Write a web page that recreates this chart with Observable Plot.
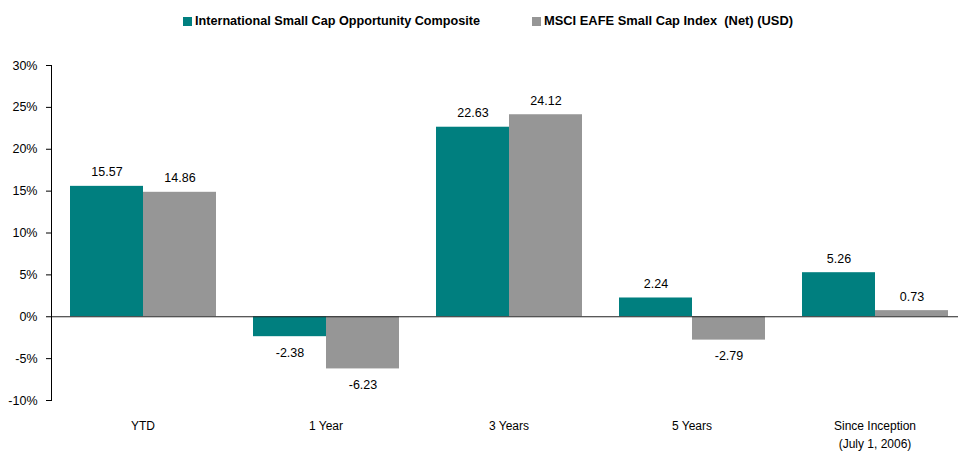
<!DOCTYPE html>
<html>
<head>
<meta charset="utf-8">
<script src="https://cdn.jsdelivr.net/npm/d3@7"></script>
<script src="https://cdn.jsdelivr.net/npm/@observablehq/plot@0.6"></script>
<style>
  html, body { margin: 0; padding: 0; background: #fff; }
  #legend { position: relative; width: 958px; height: 40px; font-family: "Liberation Sans", Arial, sans-serif; font-weight: bold; font-size: 12.5px; color: #000; }
  .item { position: absolute; top: 13px; height: 17px; }
  .sw { position: absolute; left: 0; top: 4px; width: 9px; height: 9px; }
  .tx { position: absolute; top: 0; white-space: pre; transform-origin: 0 50%; line-height: 17px; }
  #chart svg { display: block; font-family: "Liberation Sans", Arial, sans-serif; }
</style>
</head>
<body>
<div id="legend"></div>
<div id="chart"></div>
<script>
const categories = ["YTD", "1 Year", "3 Years", "5 Years", "Since Inception\n(July 1, 2006)"];
const seriesNames = ["International Small Cap Opportunity Composite", "MSCI EAFE Small Cap Index  (Net) (USD)"];
const composite = [15.57, -2.38, 22.63, 2.24, 5.26];
const msciIndex = [14.86, -6.23, 24.12, -2.79, 0.73];
const yTicks = [-10, -5, 0, 5, 10, 15, 20, 25, 30];
const colors = ["#007F7F", "#969696"];

const data = categories.flatMap((c, i) => [
  {category: c, series: seriesNames[0], value: composite[i]},
  {category: c, series: seriesNames[1], value: msciIndex[i]}
]);

// Legend (condensed bold text, like the reference's narrow face)
const legend = document.getElementById("legend");
const legendLeft = [183, 532];
const legendTextWidth = [285, 249];
seriesNames.forEach((s, i) => {
  const it = document.createElement("div");
  it.className = "item";
  it.style.left = legendLeft[i] + "px";
  const sw = document.createElement("span");
  sw.className = "sw";
  sw.style.background = colors[i];
  const tx = document.createElement("span");
  tx.className = "tx";
  tx.style.left = "12px";
  tx.textContent = s;
  it.appendChild(sw);
  it.appendChild(tx);
  legend.appendChild(it);
  const w = tx.getBoundingClientRect().width;
  if (w > 0) tx.style.transform = `scaleX(${legendTextWidth[i] / w})`;
});

const chart = Plot.plot({
  width: 958,
  height: 412,
  marginTop: 25,
  marginBottom: 52,
  marginLeft: 51,
  marginRight: 0,
  style: {fontFamily: "Liberation Sans, Arial, sans-serif", fontSize: "12px", color: "#000"},
  fx: {domain: categories, range: [51, 966], paddingInner: 0, paddingOuter: 0, label: null},
  x: {domain: seriesNames, paddingInner: 0, paddingOuter: 0.25, axis: null},
  y: {domain: [-10, 30], label: null},
  color: {domain: seriesNames, range: colors},
  marks: [
    Plot.barY(data, {fx: "category", x: "series", y: "value", fill: "series"}),
    Plot.ruleY([0], {stroke: "#222", strokeWidth: 1}),
    Plot.frame({anchor: "left", facetAnchor: "left", stroke: "#000"}),
    Plot.axisY({ticks: yTicks, tickFormat: d => d + "%", tickSize: 5, tickPadding: 9, fontSize: 12.5, label: null, stroke: "#000"}),
    Plot.axisFx({anchor: "bottom", tickSize: 0, tickPadding: 17, lineHeight: 1.5, label: null, fontSize: 12}),
    Plot.text(data.filter(d => d.value >= 0), {fx: "category", x: "series", y: "value", text: d => d.value.toFixed(2), lineAnchor: "bottom", dy: -10, fontSize: 12.5, fill: "#000"}),
    Plot.text(data.filter(d => d.value < 0), {fx: "category", x: "series", y: "value", text: d => d.value.toFixed(2), lineAnchor: "top", dy: 11, fontSize: 12.5, fill: "#000"})
  ]
});
document.getElementById("chart").appendChild(chart);
</script>
</body>
</html>
